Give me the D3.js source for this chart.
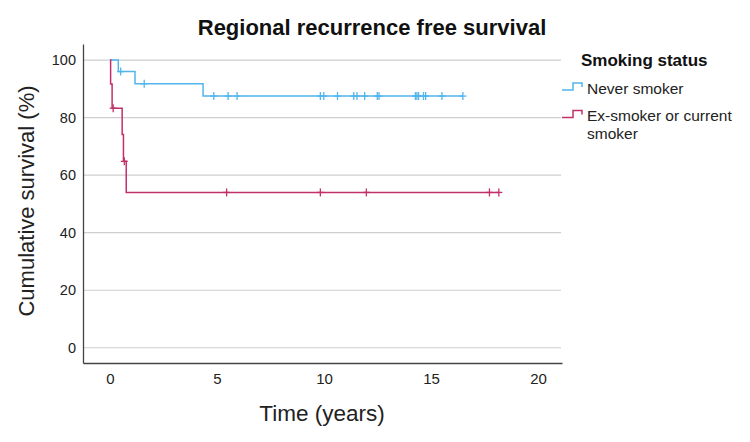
<!DOCTYPE html>
<html>
<head>
<meta charset="utf-8">
<script src="https://cdn.jsdelivr.net/npm/d3@7"></script>
<style>
  body { margin: 0; background: #fff; }
  svg { font-family: "Liberation Sans", Arial, sans-serif; }
</style>
</head>
<body>
<svg width="750" height="442"></svg>
<script>
// Kaplan-Meier steps (time in years, survival in %)
var neverTimes = [0, 0.39, 1.17, 4.35];
var neverSurv = [100, 96, 91.8, 87.5];
var neverCensor = [0.5, 1.6, 4.85, 5.52, 5.94, 9.83, 9.99, 10.63, 11.39, 11.54, 11.9,
                   12.49, 12.57, 14.27, 14.34, 14.42, 14.65, 14.75, 15.51, 16.49];

var exTimes = [0, 0.03, 0.1, 0.57, 0.63, 0.76];
var exSurv = [100, 91.7, 83.3, 74.1, 64.8, 54.0];
var exCensor = [0.15, 0.67, 5.45, 9.83, 11.98, 17.73, 18.17];

var xTicks = [0, 5, 10, 15, 20];
var yTicks = [0, 20, 40, 60, 80, 100];

var groups = [
  { name: "Never smoker", times: neverTimes, surv: neverSurv, censor: neverCensor, color: "#52b5ec" },
  { name: "Ex-smoker or current smoker", times: exTimes, surv: exSurv, censor: exCensor, color: "#c2306b" }
];

var svg = d3.select("svg");

var x = d3.scaleLinear().domain([-1.26, 21.12]).range([83, 562]);
var y = d3.scaleLinear().domain([-5.3, 105.6]).range([363, 44]);

// grid lines
svg.append("g")
  .selectAll("line")
  .data(yTicks)
  .enter().append("line")
    .attr("x1", x.range()[0])
    .attr("x2", 561)
    .attr("y1", function(d) { return y(d); })
    .attr("y2", function(d) { return y(d); })
    .attr("stroke", "#cfcfcf")
    .attr("stroke-width", 1.2);

var yAxis = svg.append("g")
  .attr("transform", "translate(" + x.range()[0] + ",0)")
  .call(d3.axisLeft(y).tickValues(yTicks).tickSize(0).tickPadding(7));
var xAxis = svg.append("g")
  .attr("transform", "translate(0," + y.range()[0] + ")")
  .call(d3.axisBottom(x).tickValues(xTicks).tickSize(0).tickPadding(10));

[yAxis, xAxis].forEach(function(a) {
  a.select(".domain").attr("stroke", "#444").attr("stroke-width", 1.3);
  a.selectAll("text")
    .attr("font-family", "Liberation Sans, Arial, sans-serif")
    .attr("fill", "#222");
});
yAxis.selectAll("text").attr("font-size", 14.5);
xAxis.selectAll("text").attr("font-size", 15);

// step curves
var line = d3.line()
  .x(function(d) { return x(d.t); })
  .y(function(d) { return y(d.s); })
  .curve(d3.curveStepAfter);

function survAt(g, t) {
  var i = d3.bisectRight(g.times, t) - 1;
  return g.surv[Math.max(i, 0)];
}

groups.forEach(function(g) {
  var pts = g.times.map(function(t, i) { return { t: t, s: g.surv[i] }; });
  var tEnd = d3.max(g.censor);
  pts.push({ t: tEnd, s: survAt(g, tEnd) });

  svg.append("path")
    .datum(pts)
    .attr("d", line)
    .attr("fill", "none")
    .attr("stroke", g.color)
    .attr("stroke-width", 1.5);

  var marks = svg.append("g").selectAll("g")
    .data(g.censor)
    .enter().append("g")
      .attr("transform", function(t) { return "translate(" + x(t) + "," + y(survAt(g, t)) + ")"; });
  marks.append("line").attr("x1", -3.5).attr("x2", 3.5).attr("y1", 0).attr("y2", 0);
  marks.append("line").attr("x1", 0).attr("x2", 0).attr("y1", -4).attr("y2", 4);
  marks.selectAll("line").attr("stroke", g.color).attr("stroke-width", 1.3);
});

// titles
svg.append("text")
  .attr("x", 372).attr("y", 35)
  .attr("text-anchor", "middle")
  .attr("font-size", 22).attr("font-weight", "bold").attr("fill", "#111")
  .text("Regional recurrence free survival");

svg.append("text")
  .attr("x", 322).attr("y", 421)
  .attr("text-anchor", "middle")
  .attr("font-size", 22.5).attr("fill", "#222")
  .text("Time (years)");

svg.append("text")
  .attr("transform", "translate(34,201) rotate(-90)")
  .attr("text-anchor", "middle")
  .attr("font-size", 22).attr("fill", "#222")
  .text("Cumulative survival (%)");

// legend
var legend = svg.append("g");
legend.append("text")
  .attr("x", 581).attr("y", 66)
  .attr("font-size", 17).attr("font-weight", "bold").attr("fill", "#111")
  .text("Smoking status");

var symbol = d3.line();
var legendRows = [
  { y: 90, lines: ["Never smoker"] },
  { y: 117.5, lines: ["Ex-smoker or current", "smoker"] }
];
legendRows.forEach(function(r, i) {
  var g = groups[i];
  legend.append("path")
    .attr("d", symbol([[562, r.y], [573, r.y], [573, r.y - 7], [582, r.y - 7], [582, r.y - 3]]))
    .attr("fill", "none")
    .attr("stroke", g.color)
    .attr("stroke-width", 1.5);
  r.lines.forEach(function(txt, j) {
    legend.append("text")
      .attr("x", 587).attr("y", r.y + 3.5 + j * 18)
      .attr("font-size", 15.5).attr("fill", "#222")
      .text(txt);
  });
});
</script>
</body>
</html>
